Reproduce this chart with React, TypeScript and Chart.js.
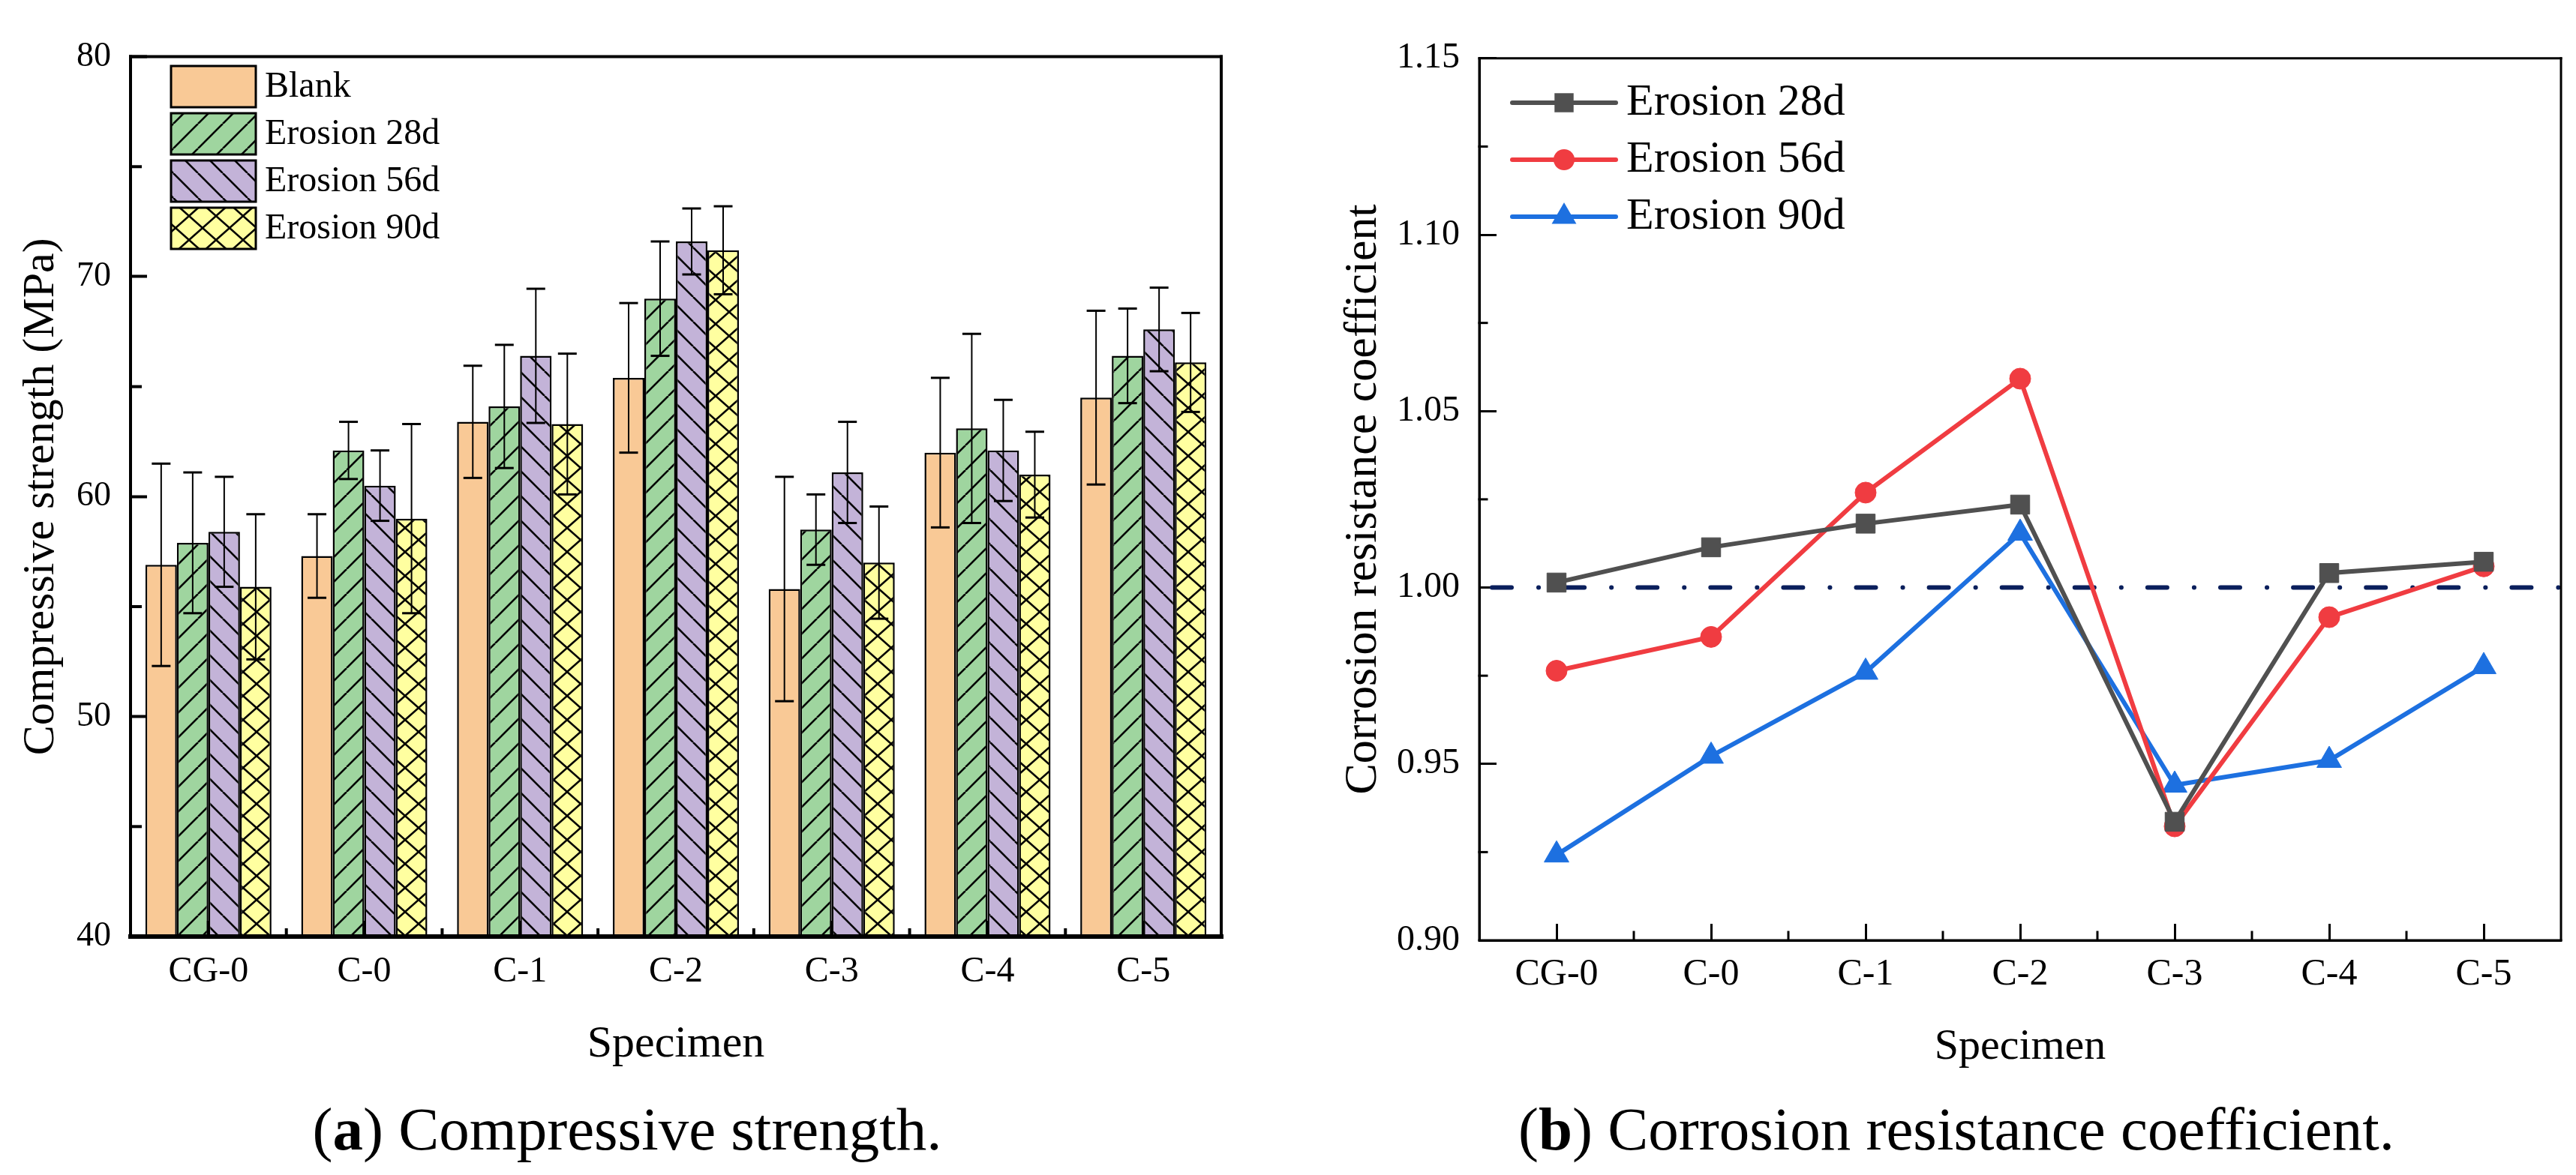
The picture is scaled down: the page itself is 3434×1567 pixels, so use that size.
import { useEffect, useRef } from "react"
import { Chart, registerables } from "chart.js"

Chart.register(...registerables)

const SERIF = "'Liberation Serif', 'Times New Roman', serif"

// ---- data (a) compressive strength ----
const specimens = ["CG-0", "C-0", "C-1", "C-2", "C-3", "C-4", "C-5"]
const barSeriesNames = ["Blank", "Erosion 28d", "Erosion 56d", "Erosion 90d"]
const blankStrength = [56.9, 57.3, 63.4, 65.4, 55.8, 62.0, 64.5]
const erosion28Strength = [57.9, 62.1, 64.1, 69.0, 58.5, 63.1, 66.4]
const erosion56Strength = [58.4, 60.5, 66.4, 71.6, 61.1, 62.1, 67.6]
const erosion90Strength = [55.9, 59.0, 63.3, 71.2, 57.0, 61.0, 66.1]
const blankError = [4.6, 1.9, 2.55, 3.4, 5.1, 3.4, 3.95]
const erosion28Error = [3.2, 1.3, 2.8, 2.6, 1.6, 4.3, 2.15]
const erosion56Error = [2.5, 1.6, 3.05, 1.5, 2.3, 2.3, 1.9]
const erosion90Error = [3.3, 4.3, 3.2, 2.0, 2.55, 1.95, 2.25]
const strengthTicks = [40, 50, 60, 70, 80]
const strengthMinorTicks = [45, 55, 65, 75]

// ---- data (b) corrosion resistance coefficient ----
const lineSeriesNames = ["Erosion 28d", "Erosion 56d", "Erosion 90d"]
const coef28 = [1.0014, 1.0114, 1.0181, 1.0235, 0.9336, 1.0041, 1.0073]
const coef56 = [0.9764, 0.986, 1.0269, 1.0592, 0.9323, 0.9916, 1.006]
const coef90 = [0.9242, 0.9522, 0.976, 1.0154, 0.944, 0.951, 0.9776]
const coefTicks = [0.9, 0.95, 1.0, 1.05, 1.1, 1.15]
const coefMinorTicks = [0.925, 0.975, 1.025, 1.075, 1.125]
const referenceLevel = 1.0

// ---- styles ----
const barColors = ["#F9C996", "#9FD59F", "#C3B3D8", "#FFFFA0"]
const barHatches = ["none", "fwd", "back", "cross"]
const lineColors = ["#505050", "#F03C41", "#1D70E0"]
const lineMarkers = ["rect", "circle", "triangle"]
const markerRadius = [18, 14, 19]

// make sure the serif face is in use before (re)drawing the canvases
const fontsReady = Promise.all([
  document.fonts.load(`48px "Liberation Serif"`, "Erosion 28d"),
  document.fonts.load(`bold 48px "Liberation Serif"`, "ab"),
]).catch(() => null)

function makeFill(ctx: CanvasRenderingContext2D, color: string, hatch: string) {
  if (hatch === "none") return color
  const w = hatch === "cross" ? 36 : 33
  const h = hatch === "cross" ? 32 : 33
  const tile = document.createElement("canvas")
  tile.width = w
  tile.height = h
  const g = tile.getContext("2d")!
  g.fillStyle = color
  g.fillRect(0, 0, w, h)
  g.strokeStyle = "#000"
  g.lineWidth = 2.6
  const seg = (x1: number, y1: number, x2: number, y2: number) => {
    g.beginPath()
    g.moveTo(x1, y1)
    g.lineTo(x2, y2)
    g.stroke()
  }
  for (const k of [-1, 0, 1]) {
    if (hatch === "fwd" || hatch === "cross") seg(k * w, h, k * w + w, 0)
    if (hatch === "back" || hatch === "cross") seg(k * w, 0, k * w + w, h)
  }
  return ctx.createPattern(tile, "repeat") as CanvasPattern
}

function strokeLine(ctx: CanvasRenderingContext2D, x1: number, y1: number, x2: number, y2: number) {
  ctx.beginPath()
  ctx.moveTo(x1, y1)
  ctx.lineTo(x2, y2)
  ctx.stroke()
}

// frame on all four sides plus minor ticks, drawn over the data
function framePlugin(o: { side: number; bottom: number; minorY: number[]; yLen: number; xLen: number; tickW: number }) {
  return {
    id: "frame",
    afterDatasetsDraw(chart: any) {
      const { ctx, chartArea: a, scales } = chart
      ctx.save()
      ctx.strokeStyle = "#000"
      ctx.lineCap = "square"
      ctx.lineWidth = o.tickW
      o.minorY.forEach((v) => {
        const py = scales.y.getPixelForValue(v)
        strokeLine(ctx, a.left, py, a.left + o.yLen, py)
      })
      const n = chart.data.labels.length
      for (let i = 0; i < n - 1; i++) {
        const px = (scales.x.getPixelForValue(i) + scales.x.getPixelForValue(i + 1)) / 2
        strokeLine(ctx, px, a.bottom, px, a.bottom - o.xLen)
      }
      ctx.lineWidth = o.side
      strokeLine(ctx, a.left, a.top, a.right, a.top)
      strokeLine(ctx, a.right, a.top, a.right, a.bottom)
      strokeLine(ctx, a.left, a.top, a.left, a.bottom)
      ctx.lineWidth = o.bottom
      strokeLine(ctx, a.left, a.bottom, a.right, a.bottom)
      ctx.restore()
    },
  }
}

const errorBarPlugin = {
  id: "errorBars",
  afterDatasetsDraw(chart: any) {
    const { ctx } = chart
    const y = chart.scales.y
    ctx.save()
    ctx.strokeStyle = "#000"
    chart.data.datasets.forEach((ds: any, i: number) => {
      const meta = chart.getDatasetMeta(i)
      meta.data.forEach((bar: any, j: number) => {
        const v = ds.data[j]
        const e = ds.errors[j]
        const top = y.getPixelForValue(v + e)
        const bot = y.getPixelForValue(v - e)
        ctx.lineWidth = 2
        strokeLine(ctx, bar.x, top, bar.x, bot)
        ctx.lineWidth = 3
        strokeLine(ctx, bar.x - 12.5, top, bar.x + 12.5, top)
        strokeLine(ctx, bar.x - 12.5, bot, bar.x + 12.5, bot)
      })
    })
    ctx.restore()
  },
}

const barLegendPlugin = {
  id: "barLegend",
  afterDraw(chart: any) {
    const { ctx } = chart
    ctx.save()
    ctx.font = `48px ${SERIF}`
    ctx.textBaseline = "middle"
    chart.data.datasets.forEach((ds: any, i: number) => {
      const top = 88 + i * 63
      ctx.fillStyle = ds.backgroundColor
      ctx.fillRect(228, top, 113, 55)
      ctx.strokeStyle = "#000"
      ctx.lineWidth = 3
      ctx.strokeRect(228, top, 113, 55)
      ctx.fillStyle = "#000"
      ctx.fillText(ds.label, 353, top + 28)
    })
    ctx.restore()
  },
}

function drawMarker(ctx: CanvasRenderingContext2D, style: string, x: number, y: number, r: number) {
  ctx.beginPath()
  if (style === "rect") {
    const s = Math.SQRT1_2 * r
    ctx.rect(x - s, y - s, 2 * s, 2 * s)
  } else if (style === "circle") {
    ctx.arc(x, y, r, 0, Math.PI * 2)
  } else {
    for (let k = 0; k < 3; k++) {
      const ang = (k * 2 * Math.PI) / 3
      const px = x + Math.sin(ang) * r
      const py = y - Math.cos(ang) * r
      if (k === 0) ctx.moveTo(px, py)
      else ctx.lineTo(px, py)
    }
    ctx.closePath()
  }
  ctx.fill()
}

const lineLegendPlugin = {
  id: "lineLegend",
  afterDraw(chart: any) {
    const { ctx } = chart
    ctx.save()
    ctx.font = `60px ${SERIF}`
    ctx.textBaseline = "middle"
    chart.data.datasets.forEach((ds: any, i: number) => {
      const cy = 137 + i * 76
      ctx.strokeStyle = ds.borderColor
      ctx.fillStyle = ds.borderColor
      ctx.lineWidth = 6
      ctx.lineCap = "round"
      strokeLine(ctx, 299, cy, 437, cy)
      drawMarker(ctx, ds.pointStyle, 368, cy, ds.pointRadius)
      ctx.fillStyle = "#000"
      ctx.fillText(ds.label, 451, cy)
    })
    ctx.restore()
  },
}

const referenceLinePlugin = {
  id: "referenceLine",
  beforeDatasetsDraw(chart: any) {
    const { ctx, chartArea: a } = chart
    const py = chart.scales.y.getPixelForValue(referenceLevel)
    ctx.save()
    ctx.strokeStyle = "#0A1F5C"
    ctx.lineWidth = 6
    ctx.lineCap = "round"
    ctx.setLineDash([26, 36, 0.1, 35])
    ctx.lineDashOffset = -17
    strokeLine(ctx, a.left, py, a.right, py)
    ctx.restore()
  },
}

function StrengthChart() {
  const chartRef = useRef<HTMLCanvasElement>(null)

  useEffect(() => {
    const canvas = chartRef.current
    if (!canvas) return
    const ctx = canvas.getContext("2d")
    if (!ctx) return
    const values = [blankStrength, erosion28Strength, erosion56Strength, erosion90Strength]
    const errors = [blankError, erosion28Error, erosion56Error, erosion90Error]

    const chart = new Chart(ctx, {
      type: "bar",
      data: {
        labels: specimens,
        datasets: barSeriesNames.map((name, i) => ({
          label: name,
          data: values[i],
          errors: errors[i],
          backgroundColor: makeFill(ctx, barColors[i], barHatches[i]),
          borderColor: "#000",
          borderWidth: 2.5,
          categoryPercentage: 0.809,
          barPercentage: 1,
        })) as any,
      },
      options: {
        responsive: false,
        devicePixelRatio: 1,
        animation: false,
        font: { family: SERIF },
        layout: { padding: { top: 61, right: 89, left: 0, bottom: 0 } },
        plugins: { legend: { display: false }, tooltip: { enabled: false } },
        scales: {
          x: {
            offset: true,
            grid: { offset: false, drawOnChartArea: false, tickLength: -21, tickWidth: 4, tickColor: "#000" },
            border: { color: "#000", width: 6 },
            ticks: { color: "#000", padding: 40, font: { family: SERIF, size: 48 } },
            title: { display: true, text: "Specimen", color: "#000", font: { family: SERIF, size: 60 }, padding: { top: 0, bottom: 31 } },
            afterFit: (s: any) => { s.height = 211 },
          },
          y: {
            min: 40,
            max: 80,
            afterBuildTicks: (axis: any) => { axis.ticks = strengthTicks.map((v) => ({ value: v })) },
            grid: { drawOnChartArea: false, tickLength: -22, tickWidth: 4, tickColor: "#000" },
            border: { color: "#000", width: 4 },
            ticks: { color: "#000", padding: 48, font: { family: SERIF, size: 46 } },
            title: { display: true, text: "Compressive strength (MPa)", color: "#000", font: { family: SERIF, size: 60 }, padding: { top: 19, bottom: 0 } },
            afterFit: (s: any) => { s.width = 174 },
          },
        },
      } as any,
      plugins: [
        errorBarPlugin,
        framePlugin({ side: 4, bottom: 6, minorY: strengthMinorTicks, yLen: 13, xLen: 9, tickW: 4 }),
        barLegendPlugin,
      ],
    })
    let alive = true
    fontsReady.then(() => { if (alive) chart.update("none") })

    return () => {
      alive = false
      chart.destroy()
    }
  }, [])

  return <canvas ref={chartRef} width={1717} height={1460} style={{ display: "block", width: 1717, height: 1460 }} />
}

function CoefficientChart() {
  const chartRef = useRef<HTMLCanvasElement>(null)

  useEffect(() => {
    const canvas = chartRef.current
    if (!canvas) return
    const ctx = canvas.getContext("2d")
    if (!ctx) return
    const values = [coef28, coef56, coef90]

    const chart = new Chart(ctx, {
      type: "line",
      data: {
        labels: specimens,
        datasets: lineSeriesNames.map((name, i) => ({
          label: name,
          data: values[i],
          borderColor: lineColors[i],
          backgroundColor: lineColors[i],
          borderWidth: 6,
          pointStyle: lineMarkers[i],
          pointRadius: markerRadius[i],
          pointBackgroundColor: lineColors[i],
          pointBorderColor: lineColors[i],
          pointBorderWidth: 1,
          tension: 0,
        })) as any,
      },
      options: {
        responsive: false,
        devicePixelRatio: 1,
        animation: false,
        font: { family: SERIF },
        layout: { padding: { top: 55, right: 19, left: 0, bottom: 0 } },
        plugins: { legend: { display: false }, tooltip: { enabled: false } },
        scales: {
          x: {
            offset: true,
            grid: { offset: false, drawOnChartArea: false, tickLength: -22, tickWidth: 3, tickColor: "#000" },
            border: { color: "#000", width: 3 },
            ticks: { color: "#000", padding: 38, font: { family: SERIF, size: 50 } },
            title: { display: true, text: "Specimen", color: "#000", font: { family: SERIF, size: 58 }, padding: { top: 0, bottom: 28 } },
            afterFit: (s: any) => { s.height = 206 },
          },
          y: {
            min: 0.9,
            max: 1.15,
            afterBuildTicks: (axis: any) => { axis.ticks = coefTicks.map((v) => ({ value: v })) },
            grid: { drawOnChartArea: false, tickLength: -23, tickWidth: 3, tickColor: "#000" },
            border: { color: "#000", width: 3 },
            ticks: {
              color: "#000",
              padding: 49,
              font: { family: SERIF, size: 48 },
              callback: (v: any) => Number(v).toFixed(2),
            },
            title: { display: true, text: "Corrosion resistance coefficient", color: "#000", font: { family: SERIF, size: 62 }, padding: { top: 64, bottom: 0 } },
            afterFit: (s: any) => { s.width = 255 },
          },
        },
      } as any,
      plugins: [
        referenceLinePlugin,
        framePlugin({ side: 3, bottom: 3, minorY: coefMinorTicks, yLen: 10, xLen: 11, tickW: 3 }),
        lineLegendPlugin,
      ],
    })
    let alive = true
    fontsReady.then(() => { if (alive) chart.update("none") })

    return () => {
      alive = false
      chart.destroy()
    }
  }, [])

  return <canvas ref={chartRef} width={1717} height={1460} style={{ display: "block", width: 1717, height: 1460 }} />
}

const captionStyle = {
  position: "absolute" as const,
  top: 1466,
  fontFamily: SERIF,
  fontSize: 81,
  lineHeight: "80px",
  whiteSpace: "nowrap" as const,
  color: "#000",
  transform: "translateX(-50%)",
}

export default function App() {
  return (
    <div style={{ position: "absolute", left: 0, top: 0, width: 3434, height: 1567, background: "#fff", overflow: "hidden" }}>
      <div style={{ position: "absolute", left: 0, top: 0 }}>
        <StrengthChart />
      </div>
      <div style={{ position: "absolute", left: 1717, top: 0 }}>
        <CoefficientChart />
      </div>
      <div style={{ ...captionStyle, left: 836 }}>
        (<b>a</b>) Compressive strength.
      </div>
      <div style={{ ...captionStyle, left: 2608 }}>
        (<b>b</b>) Corrosion resistance coefficient.
      </div>
    </div>
  )
}
